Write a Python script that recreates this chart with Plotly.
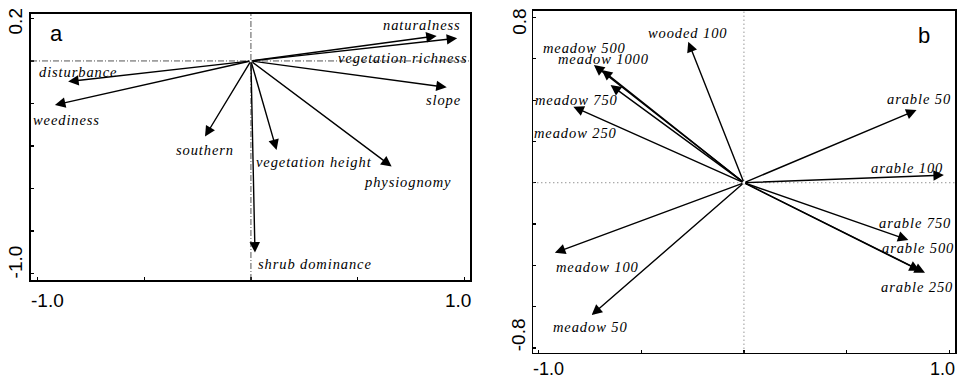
import plotly.graph_objects as go

# ---------------- Panel a data ----------------
a_labels = ["naturalness", "vegetation richness", "disturbance", "weediness", "southern",
            "vegetation height", "physiognomy", "slope", "shrub dominance"]
a_x = [0.870, 0.966, -0.856, -0.918, -0.215, 0.120, 0.659, 0.917, 0.019]
a_y = [0.118, 0.107, -0.097, -0.207, -0.356, -0.419, -0.497, -0.124, -0.902]
a_lab_x = [0.801, 0.712, -0.810, -0.862, -0.215, 0.295, 0.735, 0.904, 0.300]
a_lab_y = [0.169, 0.014, -0.052, -0.278, -0.419, -0.475, -0.569, -0.184, -0.955]

# ---------------- Panel b data ----------------
b_labels = ["wooded 100", "meadow 500", "meadow 1000", "meadow 750", "meadow 250",
            "arable 50", "arable 100", "arable 750", "arable 500", "arable 250",
            "meadow 100", "meadow 50"]
b_x = [-0.271, -0.730, -0.692, -0.830, -0.649, 0.840, 0.973, 0.800, 0.856, 0.881, -0.920, -0.741]
b_y = [0.683, 0.570, 0.546, 0.368, 0.473, 0.352, 0.037, -0.277, -0.426, -0.436, -0.339, -0.641]
b_lab_x = [-0.277, -0.774, -0.681, -0.813, -0.822, 0.852, 0.793, 0.832, 0.847, 0.842, -0.715, -0.745]
b_lab_y = [0.725, 0.652, 0.599, 0.400, 0.241, 0.405, 0.071, -0.195, -0.316, -0.505, -0.408, -0.699]

# ---------------- Axes / ticks ----------------
x_ticks = [-1.0, -0.5, 0.0, 0.5, 1.0]
a_y_ticks = [0.2, 0.0, -0.2, -0.4, -0.6, -0.8, -1.0]
b_y_ticks = [0.8, 0.6, 0.4, 0.2, 0.0, -0.2, -0.4, -0.6, -0.8]
x_ticklabel_vals = [-1.0, 1.0]
x_ticklabels = ["-1.0", "1.0"]
a_ytick_label_vals = [0.2, -1.0]
a_ytick_labels = ["0.2", "-1.0"]
b_ytick_label_vals = [0.8, -0.8]
b_ytick_labels = ["0.8", "-0.8"]

a_xrange = [-1.030, 1.026]
a_yrange = [-1.031, 0.221]
b_xrange = [-1.025, 1.027]
b_yrange = [-0.823, 0.833]

W, H = 959, 379

fig = go.Figure()
fig.add_trace(go.Scatter(x=[0], y=[0], mode="markers", marker=dict(opacity=0), xaxis="x", yaxis="y",
                         showlegend=False, hoverinfo="skip"))
fig.add_trace(go.Scatter(x=[0], y=[0], mode="markers", marker=dict(opacity=0), xaxis="x2", yaxis="y2",
                         showlegend=False, hoverinfo="skip"))

axis_common = dict(showgrid=False, zeroline=False, showline=True, linecolor="black", linewidth=1.6,
                   mirror=True, ticks="inside", ticklen=3, tickwidth=1.2, tickcolor="black",
                   showticklabels=False, fixedrange=True)

fig.update_layout(
    width=W, height=H,
    margin=dict(l=0, r=0, t=0, b=0),
    paper_bgcolor="white", plot_bgcolor="white",
    showlegend=False,
    xaxis=dict(domain=[31 / W, 470 / W], range=a_xrange, tickvals=x_ticks, anchor="y", **axis_common),
    yaxis=dict(domain=[1 - 280 / H, 1 - 14 / H], range=a_yrange, tickvals=a_y_ticks, anchor="x", **axis_common),
    xaxis2=dict(domain=[533.3 / W, 955 / W], range=b_xrange, tickvals=x_ticks, anchor="y2", **axis_common),
    yaxis2=dict(domain=[1 - 352.7 / H, 1 - 10.7 / H], range=b_yrange, tickvals=b_y_ticks, anchor="x2", **axis_common),
)

# reference lines
fig.add_shape(type="line", xref="x", yref="y domain", x0=0, x1=0, y0=0, y1=1,
              line=dict(color="#555", width=1, dash="6px,2px,1px,2px"))
fig.add_shape(type="line", xref="x domain", yref="y", x0=0, x1=1, y0=0, y1=0,
              line=dict(color="#555", width=1, dash="6px,2px,1px,2px"))
fig.add_shape(type="line", xref="x2", yref="y2 domain", x0=0, x1=0, y0=0, y1=1,
              line=dict(color="#666", width=1, dash="1px,3px"))
fig.add_shape(type="line", xref="x2 domain", yref="y2", x0=0, x1=1, y0=0, y1=0,
              line=dict(color="#666", width=1, dash="1px,3px"))

serif = dict(family="Liberation Serif", size=14.5, color="black")


def add_panel(xs, ys, labels, lxs, lys, xr, yr):
    for x, y in zip(xs, ys):
        fig.add_annotation(x=x, y=y, ax=0, ay=0, xref=xr, yref=yr, axref=xr, ayref=yr,
                           text="", showarrow=True, arrowhead=2, arrowsize=1.5, arrowwidth=1.4,
                           arrowcolor="black", standoff=0, startstandoff=0)
    for lab, lx, ly in zip(labels, lxs, lys):
        fig.add_annotation(x=lx, y=ly, xref=xr, yref=yr,
                           text='<span style="letter-spacing:0.9px"><i>' + lab + "</i></span>",
                           showarrow=False, font=serif, xanchor="center", yanchor="middle")


add_panel(a_x, a_y, a_labels, a_lab_x, a_lab_y, "x", "y")
add_panel(b_x, b_y, b_labels, b_lab_x, b_lab_y, "x2", "y2")

sans = dict(family="Liberation Sans", size=19, color="black")
sans_b = dict(family="Liberation Sans", size=18, color="black")
for xr, yr, shifts, ys, f in (("x", "y", (10, -6), -20, sans), ("x2", "y2", (10, -7), -16.5, sans_b)):
    for v, t, s in zip(x_ticklabel_vals, x_ticklabels, shifts):
        fig.add_annotation(x=v, y=0, xref=xr, yref=yr + " domain", text=t, showarrow=False,
                           font=f, xanchor="center", yanchor="middle", xshift=s, yshift=ys)
for yr, xr, vals, labs, shifts, xs in (("y", "x", a_ytick_label_vals, a_ytick_labels, (-3, 11), -16),
                                       ("y2", "x2", b_ytick_label_vals, b_ytick_labels, (-4, 13), -14)):
    for v, t, s in zip(vals, labs, shifts):
        fig.add_annotation(x=0, y=v, xref=xr + " domain", yref=yr, text=t, showarrow=False, textangle=-90,
                           font=sans, xanchor="center", yanchor="middle", xshift=xs, yshift=s)

# panel letters (positioned in pixels from the plot-area corner)
fig.add_annotation(x=0, y=1, xref="x domain", yref="y domain", text="a", showarrow=False,
                   xanchor="center", yanchor="middle", xshift=25, yshift=-20,
                   font=dict(family="Liberation Sans", size=22, color="black"))
fig.add_annotation(x=1, y=1, xref="x2 domain", yref="y2 domain", text="b", showarrow=False,
                   xanchor="center", yanchor="middle", xshift=-31, yshift=-25,
                   font=dict(family="Liberation Sans", size=22, color="black"))

fig.write_html("out.html", config={"displayModeBar": False, "staticPlot": True},
               post_script="document.body.style.margin='0';document.body.style.padding='0';"
                           "document.body.style.overflow='hidden';")
